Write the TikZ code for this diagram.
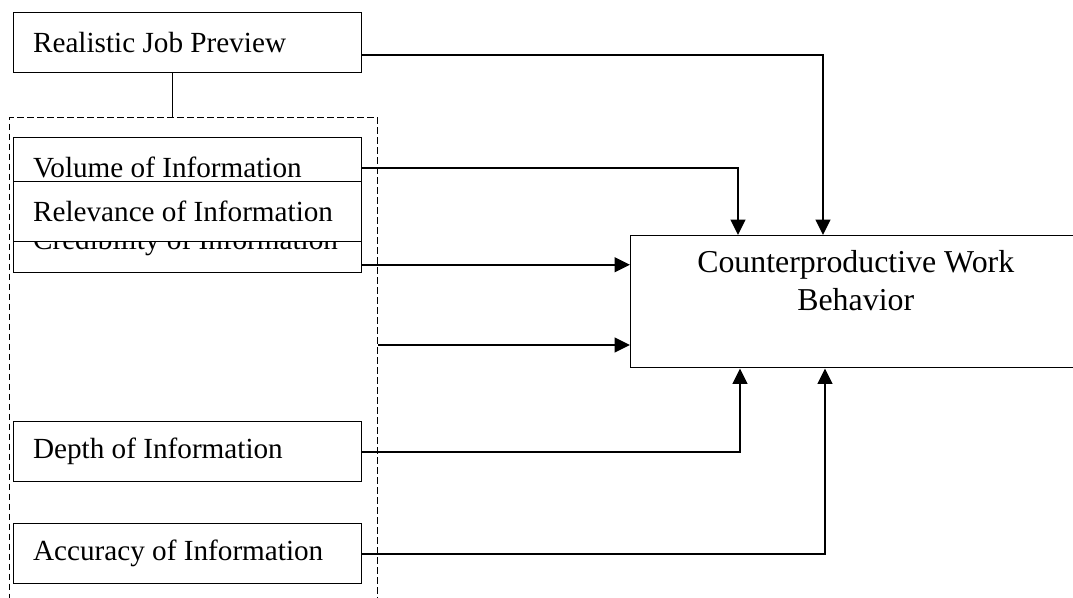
\documentclass[tikz,border=0pt]{standalone}
\usepackage{fontspec}
\setmainfont{Liberation Serif}
\usetikzlibrary{arrows.meta}

\begin{document}
\begin{tikzpicture}[x=0.75pt,y=-0.75pt,
  box/.style={draw,line width=1.1pt,fill=white,anchor=north west,text width=232pt,inner xsep=14.5pt,minimum height=45pt,align=flush left,font=\fontsize{21.9}{26}\selectfont},
  flow/.style={line width=1.4pt,-{Triangle[length=11.5pt,width=11pt]}}]
\useasboundingbox (0,0) rectangle (1073,597);

% dashed group of information features
\node (grp) [draw,dash pattern=on 5pt off 2.5pt,line width=1pt,anchor=north west,minimum width=276pt,minimum height=366pt,inner sep=0pt] at (9,117) {};

\node (rjp) [box] at (13,12) {Realistic Job Preview};
\node (vol) [box] at (13,137) {Volume of Information};
\node (cred) [box] at (13,212) {Credibility of Information};
\node (rel) [box] at (13,181) {Relevance of Information};
\node (dep) [box] at (13,421) {Depth of Information};
\node (acc) [box] at (13,523) {Accuracy of Information};

\node (cwb) [draw,line width=1.1pt,anchor=north west,minimum width=337.5pt,minimum height=99pt,align=center,text depth=31.5pt,font=\fontsize{23.9}{28.2}\selectfont] at (630,235) {Counterproductive Work\\Behavior};

\draw[line width=1.1pt] ([xshift=-11.25pt]rjp.south) -- ([xshift=-11.25pt]rjp.south |- grp.north);

\draw[flow] ([yshift=-9pt]rjp.east) -| ([xshift=144.75pt]cwb.north west);
\draw[flow] (vol.east) -| ([xshift=81pt]cwb.north west);
\draw[flow] ([yshift=-16.5pt]cred.east) -- ([yshift=-16.5pt]cred.east -| cwb.west);
\draw[flow] ([yshift=-171pt]grp.north east) -- ([yshift=-171pt]grp.north east -| cwb.west);
\draw[flow] (dep.east) -| ([xshift=82.5pt]cwb.south west);
\draw[flow] (acc.east) -| ([xshift=146.25pt]cwb.south west);
\end{tikzpicture}
\end{document}
